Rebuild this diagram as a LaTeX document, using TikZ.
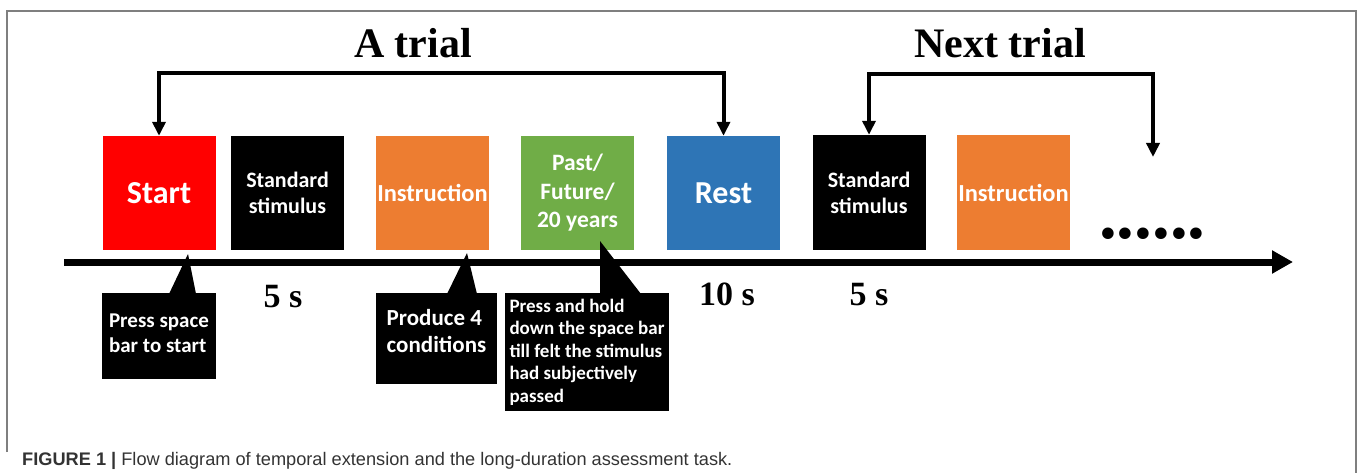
\documentclass[tikz,border=0pt]{standalone}
\usepackage{fontspec}
\setmainfont{Liberation Serif}
\newfontfamily\calfont{Carlito}
\newfontfamily\capfont{Liberation Sans}
\usetikzlibrary{arrows.meta}
\definecolor{cred}{HTML}{FF0000}
\definecolor{corange}{HTML}{ED7D31}
\definecolor{cgreen}{HTML}{70AD47}
\definecolor{cblue}{HTML}{2E75B6}
\definecolor{framecol}{HTML}{7F7F7F}
\definecolor{captxt}{HTML}{333333}
\begin{document}
\begin{tikzpicture}[x=1pt,y=-1pt,
  stepbox/.style={minimum width=113pt,minimum height=114pt,inner sep=0pt,text=white,align=center},
  cbox/.style={fill=black,inner sep=0pt},
  ctext/.style={text=white,inner sep=0pt,align=left},
  bracket/.style={line width=4pt,{Triangle[width=13pt,length=14pt]}-{Triangle[width=13pt,length=14pt]}},
  dur/.style={anchor=base,inner sep=0pt,font=\bfseries\fontsize{34}{40}\selectfont},
  ttl/.style={anchor=base,inner sep=0pt,font=\bfseries\fontsize{42}{50}\selectfont}
]
\useasboundingbox (0,0) rectangle (1357,473);
% frame
\draw[framecol,line width=1.5pt] (7,452) -- (7,11) -- (1356,11) -- (1356,473);
% titles
\node[ttl] (t1) at (413,58) {A trial};
\node[ttl] (t2) at (1000,58) {Next trial};
% boxes
\node[stepbox,fill=cred,font={\calfont\bfseries\fontsize{32}{38}\selectfont}] (start) at (159,193) {Start};
\node[stepbox,fill=black,font={\calfont\bfseries\fontsize{22}{26}\selectfont}] (std1) at (287.5,193) {Standard\\stimulus};
\node[stepbox,fill=corange,font={\calfont\bfseries\fontsize{24.5}{29}\selectfont}] (instr1) at (432.5,193) {Instruction};
\node[stepbox,fill=cgreen,font={\calfont\bfseries\fontsize{23.5}{28.5}\selectfont}] (past) at (577.5,193) {Past/\\Future/\\20 years};
\node[stepbox,fill=cblue,font={\calfont\bfseries\fontsize{32}{38}\selectfont}] (rest) at (723.5,193) {Rest};
\node[stepbox,fill=black,minimum height=115pt,font={\calfont\bfseries\fontsize{22}{26}\selectfont}] (std2) at (869,192.5) {Standard\\stimulus};
\node[stepbox,fill=corange,minimum height=115pt,font={\calfont\bfseries\fontsize{24.5}{29}\selectfont}] (instr2) at (1013.5,192.5) {Instruction};
\node[anchor=base west,inner sep=0pt,font=\bfseries\fontsize{71}{75}\selectfont] (dots) at (1099,238) {......};
% brackets
\coordinate (top1) at (0,73);
\coordinate (top2) at (0,74);
\coordinate (nxt) at (1153,157);
\draw[bracket] (start.north) -- (start.north |- top1) -| (rest.north);
\draw[bracket] (std2.north) -- (std2.north |- top2) -| (nxt);
% timeline
\coordinate (tl0) at (64,262);
\coordinate (tl1) at (1293,262);
\draw[line width=7pt,-{Triangle[width=22pt,length=21pt]}] (tl0) -- (tl1);
% durations
\node[dur] (d1) at (283,307) {5 s};
\node[dur] (d2) at (727,305) {10 s};
\node[dur] (d3) at (869,305) {5 s};
% callouts
\node[cbox,minimum width=114pt,minimum height=86pt] (c1) at (159,336) {};
\fill (169,294) -- (188,254) -- (196,294) -- cycle;
\node[ctext,font={\calfont\bfseries\fontsize{21}{25}\selectfont}] (c1t) at ([yshift=3pt]c1.center) {Press space\\bar to start};
\node[cbox,minimum width=121pt,minimum height=91pt] (c2) at (436.5,338.5) {};
\fill (447,294) -- (467,253) -- (477,294) -- cycle;
\node[ctext,font={\calfont\bfseries\fontsize{23}{27}\selectfont}] (c2t) at ([yshift=7pt]c2.center) {Produce 4\\conditions};
\node[cbox,minimum width=164pt,minimum height=118pt] (c3) at (587,352) {};
\fill (600,294) -- (600,241) -- (641,294) -- cycle;
\node[ctext,font={\calfont\bfseries\fontsize{19}{22.5}\selectfont}] (c3t) at (c3.center) {Press and hold\\down the space bar\\till felt the stimulus\\had subjectively\\passed};
% caption
\node[anchor=base west,inner sep=0pt,text=captxt,font={\capfont\fontsize{18.2}{22}\selectfont}] (cap) at (22,465) {{\bfseries FIGURE 1 |} Flow diagram of temporal extension and the long-duration assessment task.};
\end{tikzpicture}
\end{document}
